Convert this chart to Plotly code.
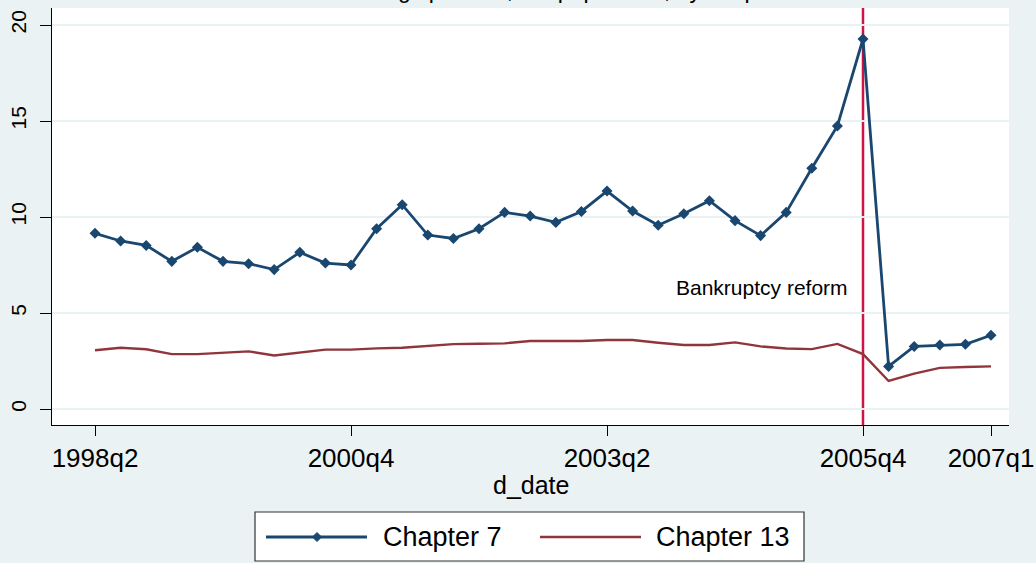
import plotly.graph_objects as go

# ---------------- data ----------------
quarters = ["1998q2","1998q3","1998q4","1999q1","1999q2","1999q3","1999q4",
            "2000q1","2000q2","2000q3","2000q4","2001q1","2001q2","2001q3","2001q4",
            "2002q1","2002q2","2002q3","2002q4","2003q1","2003q2","2003q3","2003q4",
            "2004q1","2004q2","2004q3","2004q4","2005q1","2005q2","2005q3","2005q4",
            "2006q1","2006q2","2006q3","2006q4","2007q1"]
chapter7 = [9.15, 8.75, 8.52, 7.69, 8.42, 7.69, 7.57, 7.26, 8.16, 7.60, 7.50,
            9.39, 10.64, 9.06, 8.88, 9.39, 10.24, 10.05, 9.72, 10.29, 11.35,
            10.31, 9.57, 10.17, 10.85, 9.81, 9.03, 10.24, 12.54, 14.74, 19.27,
            2.22, 3.26, 3.33, 3.37, 3.84]
chapter13 = [3.06, 3.19, 3.11, 2.86, 2.86, 2.93, 3.00, 2.79, 2.93, 3.09, 3.09,
             3.16, 3.19, 3.28, 3.38, 3.40, 3.42, 3.54, 3.54, 3.54, 3.59,
             3.59, 3.45, 3.33, 3.33, 3.47, 3.26, 3.15, 3.12, 3.39, 2.86,
             1.46, 1.84, 2.14, 2.19, 2.22]
x_tick_labels = ["1998q2", "2000q4", "2003q2", "2005q4", "2007q1"]
y_tick_values = [0, 5, 10, 15, 20]
reform_quarter = "2005q4"
reform_label = "Bankruptcy reform"
series_names = ["Chapter 7", "Chapter 13"]
title_text = "Consumer filings per 100,000 population, by chapter"

# ---------------- styling ----------------
W, H = 1036, 563
L, R, T, B = 52, 1009, 8, 425          # plot area in pixels
BG = "#EAF2F3"
NAVY = "#1A476F"
MAROON = "#90353B"
CRIMSON = "#CC1447"
FONT = "Liberation Sans, Arial, Helvetica, sans-serif"

idx = list(range(len(quarters)))
tick_idx = [quarters.index(q) for q in x_tick_labels]
reform_idx = quarters.index(reform_quarter)

def px_x(p):
    return (p - L) / (R - L)

def px_y(p):
    return (B - p) / (B - T)

fig = go.Figure()
fig.add_trace(go.Scatter(
    x=idx, y=chapter7, name=series_names[0], mode="lines+markers",
    line=dict(color=NAVY, width=2.8),
    marker=dict(symbol="diamond", size=8.5, color=NAVY),
    showlegend=False))
fig.add_trace(go.Scatter(
    x=idx, y=chapter13, name=series_names[1], mode="lines",
    line=dict(color=MAROON, width=2.4),
    showlegend=False))

# reform line
fig.add_shape(type="line", xref="x", yref="paper", x0=reform_idx, x1=reform_idx,
              y0=0, y1=1, line=dict(color=CRIMSON, width=2.5), layer="between")

fig.add_annotation(x=reform_idx, y=6.35, xref="x", yref="y", text=reform_label,
                   showarrow=False, xanchor="right", yanchor="middle", xshift=-13,
                   font=dict(size=21, color="black", family=FONT))

# cut-off title (only its descenders show at the top edge, as in the reference)
fig.add_annotation(x=px_x(518), y=1.0, xref="paper", yref="paper", text=title_text,
                   showarrow=False, xanchor="center", yanchor="bottom", yshift=3,
                   font=dict(size=23, color="black", family=FONT))

# ---------- manual legend ----------
fig.add_shape(type="rect", xref="paper", yref="paper",
              x0=px_x(255), x1=px_x(804), y0=px_y(561), y1=px_y(512),
              line=dict(color="#333333", width=1.2), fillcolor="white")
ly = px_y(537)
fig.add_shape(type="line", xref="paper", yref="paper", x0=px_x(266), x1=px_x(367),
              y0=ly, y1=ly, line=dict(color=NAVY, width=2.8))
dx = 4.5 / (R - L)
dy = 4.5 / (B - T)
cx = px_x(317)
fig.add_shape(type="path", xref="paper", yref="paper",
              path=f"M {cx-dx},{ly} L {cx},{ly+dy} L {cx+dx},{ly} L {cx},{ly-dy} Z",
              fillcolor=NAVY, line=dict(color=NAVY, width=1))
fig.add_annotation(x=px_x(381), y=ly, xref="paper", yref="paper", text=series_names[0],
                   showarrow=False, xanchor="left", yanchor="middle",
                   font=dict(size=27, color="black", family=FONT))
fig.add_shape(type="line", xref="paper", yref="paper", x0=px_x(540), x1=px_x(641),
              y0=ly, y1=ly, line=dict(color=MAROON, width=2.4))
fig.add_annotation(x=px_x(654), y=ly, xref="paper", yref="paper", text=series_names[1],
                   showarrow=False, xanchor="left", yanchor="middle",
                   font=dict(size=27, color="black", family=FONT))

# x-axis title
fig.add_annotation(x=0.5, y=px_y(485), xref="paper", yref="paper", text="d_date",
                   showarrow=False, xanchor="center", yanchor="middle",
                   font=dict(size=25, color="black", family=FONT))

x_range = [(L - 95) / 25.6, (R - 95) / 25.6]
y_per_px = 5 / 96.0
y_range = [-(B - 409) * y_per_px, (409 - T) * y_per_px]

fig.update_layout(
    width=W, height=H,
    paper_bgcolor=BG, plot_bgcolor="white",
    margin=dict(l=L, r=W - R, t=T, b=H - B, pad=0),
    font=dict(family=FONT, color="black"),
    showlegend=False,
    xaxis=dict(range=x_range, tickmode="array", tickvals=tick_idx, ticktext=x_tick_labels,
               showgrid=False, zeroline=False, showline=True, linecolor="black", linewidth=1.3,
               ticks="outside", ticklen=10, tickcolor="black", tickwidth=1.3,
               tickfont=dict(size=26, family=FONT, color="black"), automargin=False),
    yaxis=dict(range=y_range, tickmode="array", tickvals=y_tick_values,
               showgrid=True, gridcolor=BG, gridwidth=2, zeroline=False,
               showline=True, linecolor="black", linewidth=1.3,
               ticks="outside", ticklen=11, tickcolor="black", tickwidth=1.3,
               tickangle=-90, tickfont=dict(size=21, family=FONT, color="black"),
               ticklabelstandoff=5, automargin=False),
)

fig.write_html("out.html", config={"displayModeBar": False},
               post_script="document.body.style.margin='0';")
